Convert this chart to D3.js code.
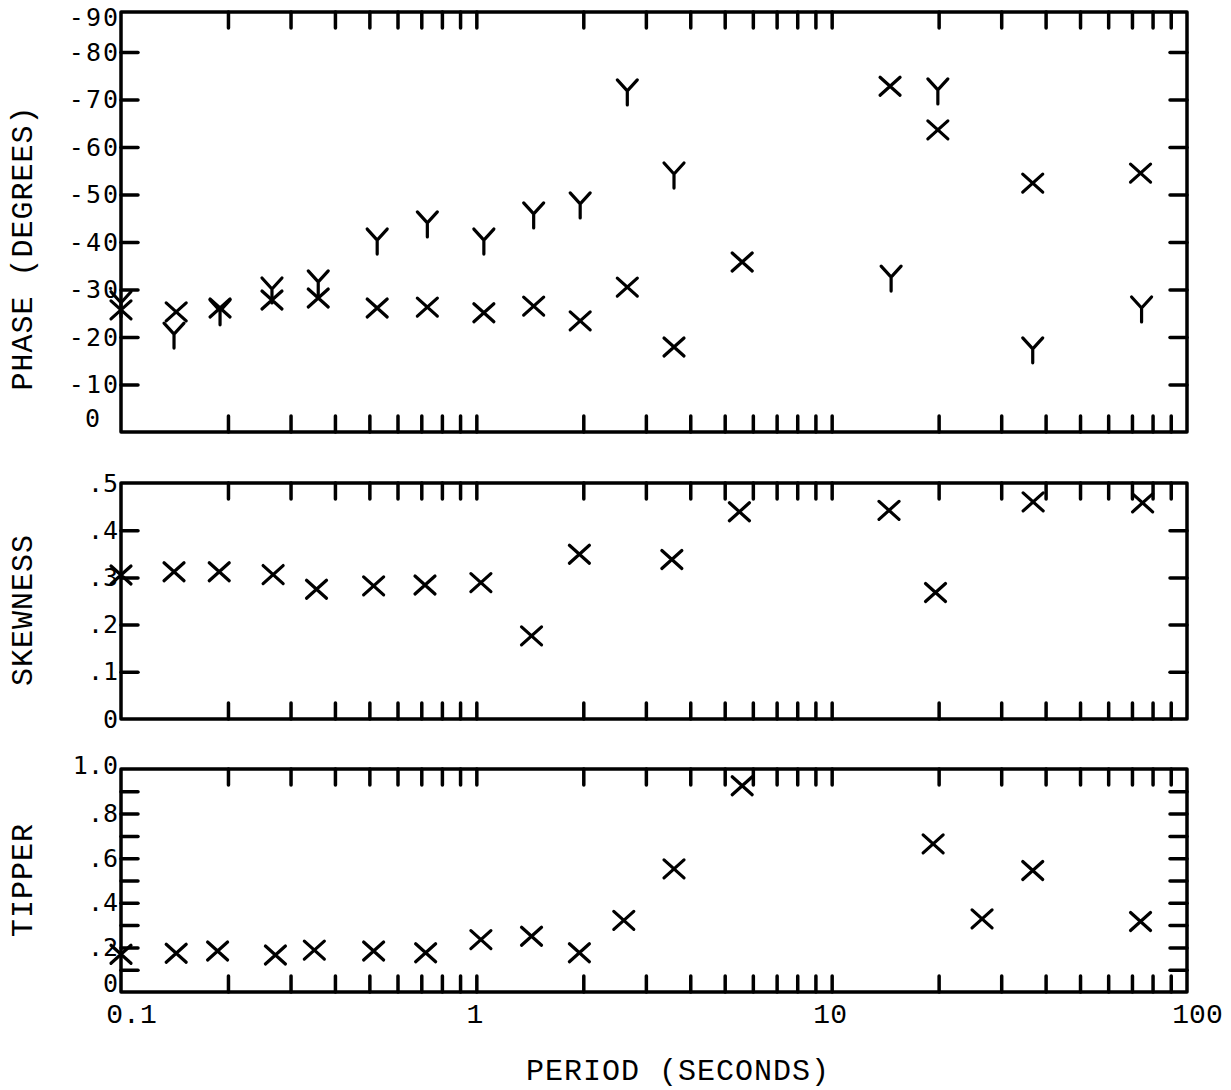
<!DOCTYPE html>
<html><head><meta charset="utf-8">
<script src="https://cdn.jsdelivr.net/npm/d3@7"></script>
<style>
body{margin:0;background:#fff}
svg{display:block}
.tk line{stroke:#000;stroke-width:3.5;stroke-linecap:round}
.tk path.domain{display:none}
.lab line, .lab path.domain{display:none}
</style>
</head><body>
<svg id="chart" width="1231" height="1090"></svg>
<script>
// ---------------- DATA ----------------
const xLabelValues = [0.1, 1, 10, 100];
const xTickLabels = ["0.1", "1", "10", "100"];
const xMinorTicks = [0.2,0.3,0.4,0.5,0.6,0.7,0.8,0.9,1,2,3,4,5,6,7,8,9,10,20,30,40,50,60,70,80,90];

// Phase panel: "X" component and "Y" component
const phaseXPeriods = [0.1,0.143,0.19,0.266,0.359,0.526,0.728,1.05,1.45,1.96,2.66,3.6,5.6,14.6,19.9,36.8,74];
const phaseXValues  = [-25.7,-25.3,-26.1,-27.8,-28.2,-26.1,-26.3,-25.1,-26.5,-23.4,-30.5,-17.9,-35.8,-72.8,-63.6,-52.4,-54.5];
const phaseYPeriods = [0.1,0.141,0.19,0.266,0.359,0.526,0.728,1.05,1.45,1.96,2.66,3.6,14.7,19.9,36.8,74.5];
const phaseYValues  = [-27,-20.4,-25.3,-29.9,-31.4,-40.2,-43.8,-40.2,-45.7,-47.8,-71.6,-54.1,-32.4,-71.8,-17.3,-25.9];
const phaseTickValues = [-10,-20,-30,-40,-50,-60,-70,-80];
const phaseLabelValues = [0,-10,-20,-30,-40,-50,-60,-70,-80,-90];
const phaseLabels = ["0","-10","-20","-30","-40","-50","-60","-70","-80","-90"];

// Skewness panel
const skewPeriods = [0.1,0.141,0.189,0.268,0.355,0.514,0.717,1.03,1.43,1.95,3.55,5.5,14.5,19.6,36.9,75];
const skewValues  = [0.305,0.312,0.312,0.306,0.275,0.282,0.284,0.289,0.176,0.349,0.338,0.439,0.442,0.268,0.46,0.458];
const skewTickValues = [0.1,0.2,0.3,0.4];
const skewLabelValues = [0,0.1,0.2,0.3,0.4,0.5];
const skewLabels = ["0",".1",".2",".3",".4",".5"];

// Tipper panel
const tipperPeriods = [0.1,0.143,0.187,0.272,0.35,0.514,0.72,1.03,1.43,1.95,2.6,3.6,5.6,19.3,26.5,36.8,74];
const tipperValues  = [0.169,0.174,0.184,0.166,0.188,0.184,0.176,0.235,0.25,0.176,0.321,0.552,0.925,0.664,0.328,0.545,0.316];
const tipperTickValues = [0.1,0.2,0.3,0.4,0.5,0.6,0.7,0.8,0.9];
const tipperLabelValues = [0,0.2,0.4,0.6,0.8,1.0];
const tipperLabels = ["0",".2",".4",".6",".8","1.0"];

const titles = ["PHASE (DEGREES)", "SKEWNESS", "TIPPER"];
const xTitle = "PERIOD (SECONDS)";

// ---------------- LAYOUT ----------------
const svg = d3.select("#chart");
const X0 = 121, X1 = 1187;
const x = d3.scaleLog().domain([0.1, 100]).range([X0, X1]);

const panels = [
  { top: 12, bottom: 432, y: d3.scaleLinear().domain([0, -90]).range([432, 432 - 9 * 47.5]),
    ticks: phaseTickValues, labelVals: phaseLabelValues, labels: phaseLabels, title: titles[0], titleY: 248, ls: 2 },
  { top: 483, bottom: 719, y: d3.scaleLinear().domain([0, 0.5]).range([719, 483]),
    ticks: skewTickValues, labelVals: skewLabelValues, labels: skewLabels, title: titles[1], titleY: 610, ls: 0 },
  { top: 769, bottom: 992, y: d3.scaleLinear().domain([0, 1]).range([992, 769]),
    ticks: tipperTickValues, labelVals: tipperLabelValues, labels: tipperLabels, title: titles[2], titleY: 880, ls: 0 }
];

const tickFont = "'DejaVu Sans Mono', monospace";
const titleFont = "'Liberation Mono', 'Courier New', monospace";

function styleText(sel, size, family, ls) {
  sel.attr("font-size", size).attr("font-family", family).attr("fill", "#000")
     .attr("letter-spacing", ls || 0);
}

panels.forEach((p, pi) => {
  const g = svg.append("g");
  // minor x ticks, top and bottom (inward)
  g.append("g").attr("class", "tk").attr("transform", `translate(0,${p.top})`)
    .call(d3.axisTop(x).tickValues(xMinorTicks).tickSizeInner(-16).tickSizeOuter(0).tickFormat(""));
  g.append("g").attr("class", "tk").attr("transform", `translate(0,${p.bottom})`)
    .call(d3.axisBottom(x).tickValues(xMinorTicks).tickSizeInner(-16).tickSizeOuter(0).tickFormat(""));
  // y ticks, left and right (inward)
  g.append("g").attr("class", "tk").attr("transform", `translate(${X0},0)`)
    .call(d3.axisLeft(p.y).tickValues(p.ticks).tickSizeInner(-17).tickSizeOuter(0).tickFormat(""));
  g.append("g").attr("class", "tk").attr("transform", `translate(${X1},0)`)
    .call(d3.axisRight(p.y).tickValues(p.ticks).tickSizeInner(-17).tickSizeOuter(0).tickFormat(""));
  // y labels
  const lab = g.append("g").attr("class", "lab").attr("transform", `translate(${X0},0)`)
    .call(d3.axisLeft(p.y).tickValues(p.labelVals).tickSize(0).tickPadding(3 - p.ls)
      .tickFormat(d => p.labels[p.labelVals.indexOf(d)]));
  lab.attr("font-size", null).attr("font-family", null);
  styleText(lab.selectAll("text"), 25, tickFont, p.ls);
  if (pi === 0) {
    lab.selectAll(".tick").filter(d => d === -90).select("text").attr("y", p.top - p.y(-90) + 5);
    lab.selectAll(".tick").filter(d => d === 0).select("text").attr("y", -14).attr("x", -19);
  }
  if (pi === 2) {
    lab.selectAll(".tick").filter(d => d === 0).select("text").attr("y", -9);
    lab.selectAll(".tick").filter(d => d === 1).select("text").attr("y", -4);
  }
  // frame
  g.append("rect").attr("x", X0).attr("y", p.top).attr("width", X1 - X0).attr("height", p.bottom - p.top)
    .attr("fill", "none").attr("stroke", "#000").attr("stroke-width", 3.5).attr("stroke-linejoin", "round");
  // y title
  const t = svg.append("text").text(p.title)
    .attr("transform", `translate(24,${p.titleY}) rotate(-90)`)
    .attr("text-anchor", "middle").attr("dominant-baseline", "central");
  styleText(t, 30, titleFont, 1);
});

// x labels on bottom panel
const last = panels[2];
const xl = svg.append("g").attr("class", "lab").attr("transform", `translate(0,${last.bottom})`)
  .call(d3.axisBottom(x).tickValues(xLabelValues).tickSize(0).tickPadding(11)
    .tickFormat(d => xTickLabels[xLabelValues.indexOf(d)]));
xl.attr("font-size", null).attr("font-family", null);
styleText(xl.selectAll("text"), 28, titleFont, 0);
xl.selectAll("text").attr("dx", d => (d === 0.1 || d === 100) ? 10 : -2);

const xt = svg.append("text").text(xTitle).attr("x", 678).attr("y", 1072)
  .attr("text-anchor", "middle").attr("dominant-baseline", "central");
styleText(xt, 30, titleFont, 1);

// ---------------- MARKERS ----------------
const crossPath = "M-10,-9L10,9M-10,9L10,-9";
const yPath = "M-10,-12L0,-1L10,-12M0,-1L0,13";

function plot(periods, values, y, path) {
  svg.append("g").selectAll("path").data(periods).join("path")
    .attr("transform", (d, i) => `translate(${x(d)},${y(values[i])})`)
    .attr("d", path).attr("fill", "none").attr("stroke", "#000")
    .attr("stroke-width", 3.2).attr("stroke-linecap", "round").attr("stroke-linejoin", "round");
}
plot(phaseXPeriods, phaseXValues, panels[0].y, crossPath);
plot(phaseYPeriods, phaseYValues, panels[0].y, yPath);
plot(skewPeriods, skewValues, panels[1].y, crossPath);
plot(tipperPeriods, tipperValues, panels[2].y, crossPath);
</script>
</body></html>
